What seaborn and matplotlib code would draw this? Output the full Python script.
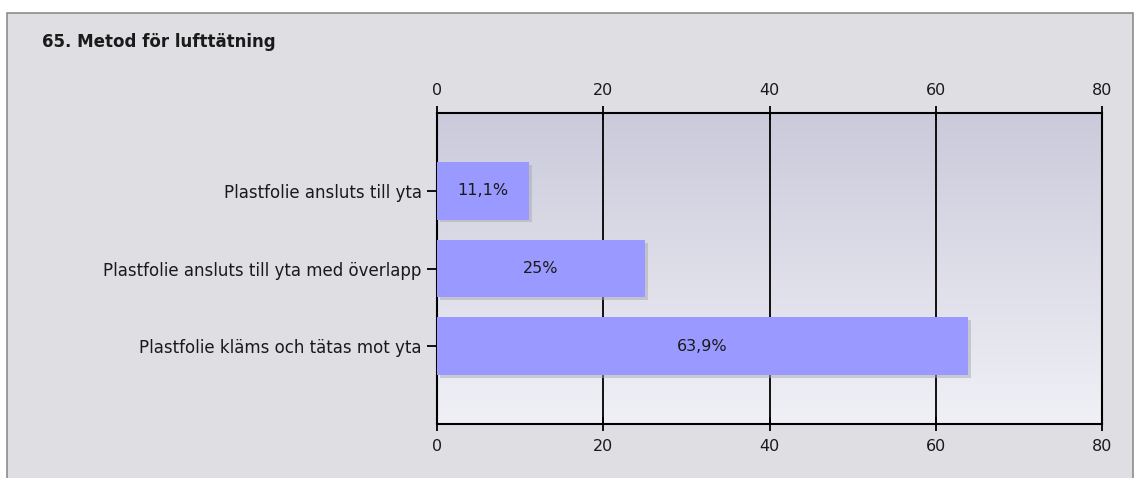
import numpy as np
import matplotlib
matplotlib.use("Agg")
import matplotlib.pyplot as plt
import matplotlib.patheffects as pe
from matplotlib.colors import LinearSegmentedColormap
from matplotlib.patches import Rectangle
import seaborn as sns
import pandas as pd

sns.set_style("white")
plt.rcParams["font.family"] = ["DejaVu Sans"]

# ------------------------------
# Data
# ------------------------------
title = "65. Metod för lufttätning"
categories = [
    "Plastfolie ansluts till yta",
    "Plastfolie ansluts till yta med överlapp",
    "Plastfolie kläms och tätas mot yta",
]
values = [11.1, 25.0, 63.9]
value_labels = ["11,1%", "25%", "63,9%"]
x_ticks = [0, 20, 40, 60, 80]

df = pd.DataFrame({"category": categories, "value": values})

# ------------------------------
# Figure
# ------------------------------
W, H = 1139, 478
fig = plt.figure(figsize=(W / 100, H / 100), dpi=100)
fig.patch.set_facecolor("white")

# outer panel with gray frame
fig.patches.append(Rectangle((7 / W, -0.01), (1133 - 7) / W, 1 - 13 / H + 0.01,
                             transform=fig.transFigure, facecolor="#DFDEE3",
                             edgecolor="#8C8C8C", linewidth=1.2, zorder=-10))

fig.text(42 / W, 1 - 42 / H, title, fontsize=12, fontweight="bold",
         color="#1A1A1A", va="center", ha="left")

ax = fig.add_axes([437 / W, 1 - 424 / H, (1102 - 437) / W, (424 - 113) / H])
ax.set_zorder(1)
ax.set_facecolor("none")

# gradient background of plot area
cmap = LinearSegmentedColormap.from_list("bg", ["#CBCADB", "#F0F0F6"])
grad = np.linspace(0, 1, 256).reshape(-1, 1)
ax.imshow(grad, cmap=cmap, aspect="auto", extent=(0, 80, 3, -1), zorder=0)

sns.barplot(data=df, x="value", y="category", orient="h", color="#9999FF",
            saturation=1, width=0.74, linewidth=0, ax=ax, zorder=3)

for bar in ax.patches:
    bar.set_path_effects([pe.SimplePatchShadow(offset=(2, -2), shadow_rgbFace="#A8A8B0",
                                               alpha=0.5), pe.Normal()])

for i, (v, lab) in enumerate(zip(values, value_labels)):
    ax.text(v / 2, i, lab, ha="center", va="center", fontsize=11.5,
            color="#1A1A1A", zorder=5)

ax.set_xlim(0, 80)
ax.set_ylim(3, -1)
ax.set_xticks(x_ticks)
ax.set_xlabel("")
ax.set_ylabel("")

for x in x_ticks[1:-1]:
    ax.axvline(x, color="black", linewidth=1.3, zorder=1)

for s in ax.spines.values():
    s.set_visible(True)
    s.set_color("black")
    s.set_linewidth(1.5)

ax.tick_params(axis="x", which="both", top=True, bottom=True, labeltop=True,
               labelbottom=True, direction="inout", length=10, width=1.3,
               color="black", labelsize=11.5, labelcolor="#1A1A1A", pad=6)
ax.tick_params(axis="y", left=True, direction="out", length=7, width=1.3,
               color="black", labelsize=12, labelcolor="#1A1A1A", pad=4)

fig.savefig("out.png", dpi=100)
